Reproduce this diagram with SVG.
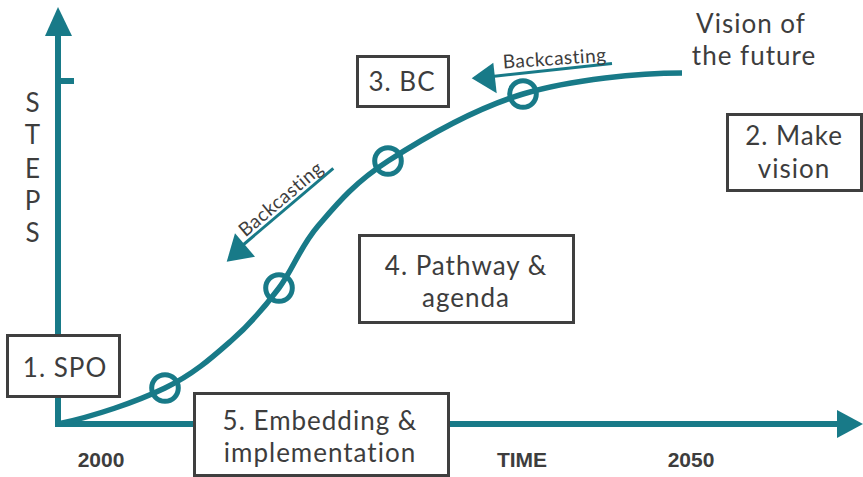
<svg xmlns="http://www.w3.org/2000/svg" width="863" height="477" viewBox="0 0 863 477">
<style>
.ax{fill:none;stroke:#187a88;stroke-width:6;stroke-linejoin:miter}
.hd{fill:#187a88;stroke:none}
.crv{fill:none;stroke:#187a88;stroke-width:5.5}
.ms{fill:none;stroke:#187a88;stroke-width:5}
.bl{fill:none;stroke:#187a88;stroke-width:3}
.box{fill:#ffffff;stroke:#3f3f3f;stroke-width:3}
.t{font-family:Lato,"Open Sans",sans-serif;font-size:26px;letter-spacing:1px;fill:#3d3d3d;text-anchor:middle}
.s{font-family:Lato,"Open Sans",sans-serif;font-size:19px;letter-spacing:0.5px;fill:#3d3d3d;text-anchor:middle}
.b{font-family:"Liberation Sans",Arial,sans-serif;font-size:21px;font-weight:bold;fill:#3d3d3d;text-anchor:middle}
</style>
<rect width="863" height="477" fill="#ffffff"/>
<g id="connectors">
  <path class="ax" d="M58,34 L58,424 L838,424"/>
  <path class="ax" d="M61,81 H74"/>
  <polygon class="hd" points="58,7 45,36 72,36"/>
  <polygon class="hd" points="863,424 837,410 837,438"/>
  <path id="s-curve" class="crv" d="M58,424 C95,416 136,402 165,388 C194,374 213,356.7 232,340 C251,323.3 264.7,307 279,288 C293.3,269 299.8,247.2 318,226 C336.2,204.8 353.8,183 388,161 C422.2,139 474,108.7 523,94 C572,79.3 640,73 682,73"/>
  <g id="backcasting-top">
    <line class="bl" x1="612" y1="63.5" x2="492" y2="76.5"/>
    <polygon class="hd" points="471.7,78.3 493.3,62.7 496.7,93.3"/>
  </g>
  <g id="backcasting-diag">
    <line class="bl" x1="333.3" y1="168.3" x2="243" y2="245"/>
    <polygon class="hd" points="226.7,261.7 235,233.3 255,256.7"/>
  </g>
</g>
<g id="milestones">
  <circle class="ms" cx="165" cy="388" r="13.3"/>
  <circle class="ms" cx="279" cy="288" r="13.3"/>
  <circle class="ms" cx="388" cy="161" r="13.3"/>
  <circle class="ms" cx="523" cy="94" r="13.3"/>
</g>
<g id="labels">
  <text class="s" transform="translate(555,65) rotate(-4)">Backcasting</text>
  <text class="s" transform="translate(285,204) rotate(-40.3)">Backcasting</text>
  <g id="steps-label">
    <text class="t" x="33" y="112">S</text>
    <text class="t" x="33" y="144">T</text>
    <text class="t" x="33" y="178">E</text>
    <text class="t" x="33" y="210">P</text>
    <text class="t" x="33" y="242">S</text>
  </g>
  <text class="b" x="101" y="467">2000</text>
  <text class="b" x="522" y="467">TIME</text>
  <text class="b" x="691" y="467">2050</text>
</g>
<g id="vision">
  <text class="t" x="751" y="33">Vision of</text>
  <text class="t" x="754" y="65">the future</text>
</g>
<g id="node-1">
  <rect class="box" x="7.5" y="335.5" width="112" height="61"/>
  <text class="t" x="65" y="377">1. SPO</text>
</g>
<g id="node-2">
  <rect class="box" x="727.5" y="114.5" width="134" height="76"/>
  <text class="t" x="794" y="145">2. Make</text>
  <text class="t" x="794" y="178">vision</text>
</g>
<g id="node-3">
  <rect class="box" x="357.5" y="56.5" width="91" height="50"/>
  <text class="t" x="402" y="91">3. BC</text>
</g>
<g id="node-4">
  <rect class="box" x="359.5" y="235.5" width="214" height="87"/>
  <text class="t" x="466" y="275">4. Pathway &amp;</text>
  <text class="t" x="466" y="307">agenda</text>
</g>
<g id="node-5">
  <rect class="box" x="194.5" y="393.5" width="254" height="82"/>
  <text class="t" x="320" y="430">5. Embedding &amp;</text>
  <text class="t" x="320" y="462">implementation</text>
</g>
</svg>
